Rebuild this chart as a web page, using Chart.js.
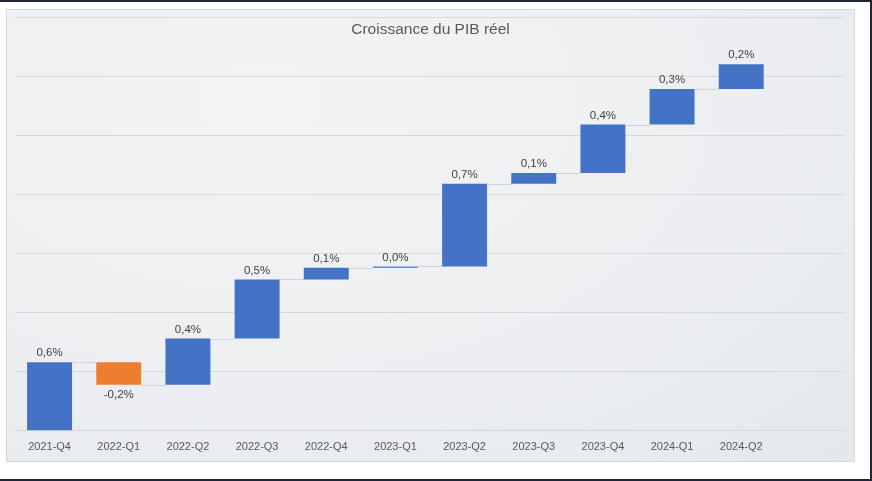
<!DOCTYPE html>
<html>
<head>
<meta charset="utf-8">
<script src="https://cdn.jsdelivr.net/npm/chart.js@4"></script>
<style>
  html, body { margin: 0; padding: 0; background: #fff; }
  #frame {
    position: relative; width: 872px; height: 481px; box-sizing: border-box;
    border-top: 2px solid #1d2736; border-bottom: 2px solid #1d2736; border-right: 2px solid #1d2736;
    background: #fff; overflow: hidden;
  }
  #panel {
    position: absolute; left: 6px; top: 7px; width: 849px; height: 453px; box-sizing: border-box;
    border: 1px solid #d6d8dc; overflow: hidden;
    background: radial-gradient(ellipse at 30% 20%, #f2f3f5 0%, #eef0f2 45%, #e8ebef 80%, #e3e8ee 100%);
  }
  #title {
    position: absolute; left: 0; right: 0; top: 10px; text-align: center;
    font: 15.5px "Liberation Sans", Arial, sans-serif; color: #595959;
  }
  canvas { position: absolute; left: 0; top: 0; }
</style>
</head>
<body>
<div id="frame">
  <div id="panel">
    <canvas id="pibChart" width="847" height="460"></canvas>
    <div id="title">Croissance du PIB réel</div>
  </div>
</div>
<script>
const trimestres = ['2021-Q4', '2022-Q1', '2022-Q2', '2022-Q3', '2022-Q4', '2023-Q1',
                    '2023-Q2', '2023-Q3', '2023-Q4', '2024-Q1', '2024-Q2', ''];
const croissance = [0.58, -0.19, 0.39, 0.5, 0.1, 0.01, 0.7, 0.09, 0.41, 0.3, 0.21, null];
const etiquettes = ['0,6%', '-0,2%', '0,4%', '0,5%', '0,1%', '0,0%', '0,7%', '0,1%', '0,4%', '0,3%', '0,2%', ''];

// waterfall: each bar floats from previous cumulative level
let cumul = 0;
const barres = croissance.map(v => {
    if (v === null) return null;
    const debut = cumul;
    cumul += v;
    return [debut, cumul];
});

const etiquettesPlugin = {
    id: 'etiquettes',
    afterDatasetsDraw(chart) {
        const ctx = chart.ctx;
        const meta = chart.getDatasetMeta(0);
        const y = chart.scales.y;
        ctx.save();
        // connector lines
        ctx.strokeStyle = '#d0d3d8';
        ctx.lineWidth = 1;
        for (let i = 0; i < barres.length - 1; i++) {
            if (!barres[i] || !barres[i + 1]) continue;
            const el = meta.data[i], next = meta.data[i + 1];
            const yy = Math.round(y.getPixelForValue(barres[i][1])) + 0.5;
            ctx.beginPath();
            ctx.moveTo(el.x + el.width / 2, yy);
            ctx.lineTo(next.x - next.width / 2, yy);
            ctx.stroke();
        }
        // value labels
        ctx.font = '11.5px "Liberation Sans", Arial, sans-serif';
        ctx.fillStyle = '#404040';
        ctx.textAlign = 'center';
        ctx.textBaseline = 'middle';
        meta.data.forEach((el, i) => {
            if (!barres[i]) return;
            const haut = Math.max(barres[i][0], barres[i][1]);
            const bas = Math.min(barres[i][0], barres[i][1]);
            if (croissance[i] >= 0) {
                ctx.fillText(etiquettes[i], el.x, y.getPixelForValue(haut) - 9);
            } else {
                ctx.fillText(etiquettes[i], el.x, y.getPixelForValue(bas) + 10);
            }
        });
        ctx.restore();
    }
};

new Chart(document.getElementById('pibChart'), {
    type: 'bar',
    data: {
        labels: trimestres,
        datasets: [{
            data: barres,
            backgroundColor: croissance.map(v => v < 0 ? '#ED7D31' : '#4472C4'),
            barPercentage: 0.65,
            categoryPercentage: 1.0
        }]
    },
    options: {
        responsive: false,
        animation: false,
        layout: { padding: { left: 8, right: 9, top: 7, bottom: 6 } },
        plugins: { legend: { display: false }, tooltip: { enabled: false } },
        scales: {
            x: {
                grid: { display: false, drawTicks: false },
                border: { display: false },
                ticks: {
                    color: '#595959',
                    padding: 10,
                    maxRotation: 0,
                    font: { family: '"Liberation Sans", Arial, sans-serif', size: 11 }
                }
            },
            y: {
                min: 0,
                max: 3.5,
                ticks: { display: false, stepSize: 0.5 },
                grid: { color: '#d5d8dc', drawTicks: false },
                border: { display: false }
            }
        }
    },
    plugins: [etiquettesPlugin]
});
</script>
</body>
</html>
